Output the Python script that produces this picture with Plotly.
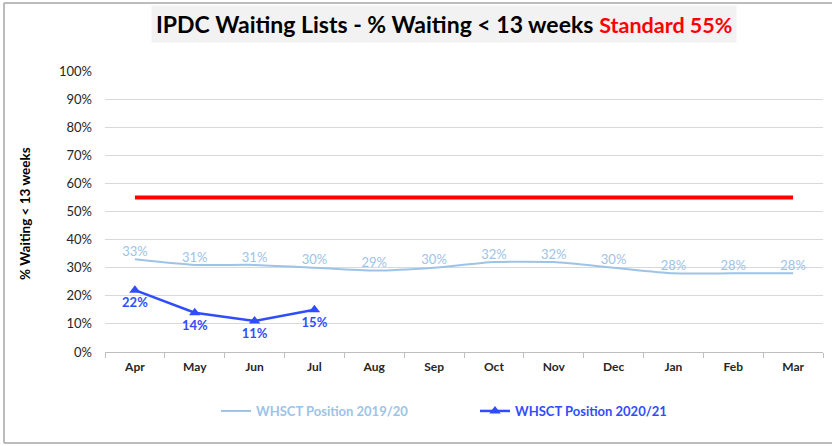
import plotly.graph_objects as go

months = ["Apr", "May", "Jun", "Jul", "Aug", "Sep", "Oct", "Nov", "Dec", "Jan", "Feb", "Mar"]
pos_1920 = [0.33, 0.31, 0.31, 0.30, 0.29, 0.30, 0.32, 0.32, 0.30, 0.28, 0.28, 0.28]
pos_2021 = [0.22, 0.14, 0.11, 0.15]
standard = [0.55] * 12
y_ticks = [i / 10 for i in range(11)]

FONT = "Lato"
LIGHT = "#9dc3e6"
DARK = "#2f4dff"

fig = go.Figure()
fig.add_trace(go.Scatter(
    x=months, y=standard, mode="lines", line=dict(color="#ff0000", width=4),
    showlegend=False, hoverinfo="skip"))
fig.add_trace(go.Scatter(
    x=months, y=pos_1920, mode="lines+text",
    line=dict(color=LIGHT, width=2, shape="spline", smoothing=0.6),
    text=[f"{round(v*100)}%" for v in pos_1920], textposition="top center",
    textfont=dict(color=LIGHT, size=13, family=FONT),
    name=f"<span style='color:{LIGHT}'><b>WHSCT Position 2019/20</b></span>"))
fig.add_trace(go.Scatter(
    x=months[:len(pos_2021)], y=pos_2021, mode="lines+markers+text",
    line=dict(color=DARK, width=2.5),
    marker=dict(symbol="triangle-up", size=10, color=DARK),
    text=[f"<b>{round(v*100)}%</b>" for v in pos_2021], textposition="bottom center",
    textfont=dict(color=DARK, size=13, family=FONT),
    name=f"<span style='color:{DARK}'><b>WHSCT Position 2020/21</b></span>"))

L, R, T, B = 105, 9, 71, 94
W, H = 832, 446
pw, ph = W - L - R, H - T - B

def px(x):
    return (x - L) / pw

def py(y):
    return (H - B - y) / ph

fig.update_layout(
    width=W, height=H,
    margin=dict(l=L, r=R, t=T, b=B, autoexpand=False),
    paper_bgcolor="white", plot_bgcolor="white",
    font=dict(family=FONT, color="#262626"),
    showlegend=True,
    legend=dict(orientation="h", x=px(475), xanchor="center", y=py(411), yanchor="middle",
                font=dict(size=13, family=FONT), entrywidth=214, itemwidth=30),
    xaxis=dict(
        categoryorder="array", categoryarray=months, automargin=False,
        range=[-0.5, len(months) - 0.5],
        showgrid=False, showline=True, linecolor="#bfbfbf", linewidth=1,
        ticks="outside", tickson="boundaries", ticklen=5, tickcolor="#bfbfbf",
        ticklabelstandoff=4,
        tickfont=dict(size=12, family=FONT, color="#262626"),
        tickprefix="<b>", ticksuffix="</b>", fixedrange=True),
    yaxis=dict(
        range=[0, 1], tickvals=y_ticks, tickformat=".0%", automargin=False,
        showgrid=True, gridcolor="#d9d9d9", gridwidth=1.3, zeroline=False,
        showline=False, ticks="", ticklabelstandoff=12,
        tickfont=dict(size=13, family=FONT, color="#262626"),
        tickprefix="<b>", ticksuffix="</b>", fixedrange=True),
    annotations=[
        dict(xref="paper", yref="paper", x=px(444), y=py(24), xanchor="center", yanchor="middle",
             text="<b>IPDC Waiting Lists - % Waiting &lt; 13 weeks</b> <span style='color:#ff0000;font-size:21.5px'><b>Standard 55%</b></span>",
             showarrow=False, bgcolor="#f2f2f2", borderpad=4,
             font=dict(size=23, family=FONT, color="#000000")),
        dict(xref="paper", yref="paper", x=px(25), y=py(214), xanchor="center", yanchor="middle",
             text="<b>% Waiting &lt; 13 weeks</b>", textangle=-90, showarrow=False,
             font=dict(size=13.5, family=FONT, color="#000000")),
    ],
    shapes=[
        dict(type="line", xref="paper", yref="paper", x0=px(4), x1=px(4), y0=py(3), y1=py(443),
             line=dict(color="#a6a6a6", width=1.5)),
        dict(type="line", xref="paper", yref="paper", x0=px(4), x1=px(832), y0=py(3), y1=py(3),
             line=dict(color="#a6a6a6", width=1.5)),
        dict(type="line", xref="paper", yref="paper", x0=px(4), x1=px(832), y0=py(443), y1=py(443),
             line=dict(color="#a6a6a6", width=1.5)),
    ],
)

fig.write_html("out.html", config={"displayModeBar": False},
               post_script="document.body.style.margin='0';document.body.style.overflow='hidden';")
